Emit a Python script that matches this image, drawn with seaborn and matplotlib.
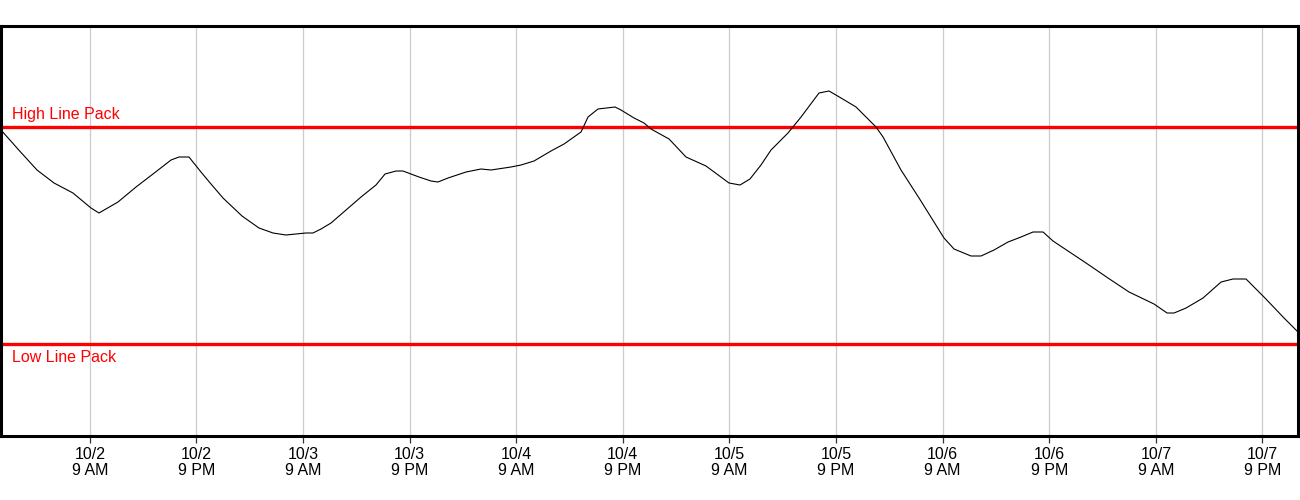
import numpy as np
import pandas as pd
import matplotlib
matplotlib.use("Agg")
import matplotlib.pyplot as plt
import matplotlib.dates as mdates
import matplotlib.transforms as mtransforms
import seaborn as sns

# ---- data ----
start_time = "2023-10-01 23:00"
hours = [0.0, 2.0, 4.05, 5.97, 8.1, 10.13, 11.03, 13.17, 15.2, 17.11, 19.14, 20.04,
         21.16, 22.51, 23.64, 24.99, 27.13, 29.04, 30.62, 32.08, 34.33, 35.12, 36.02,
         37.15, 38.84, 40.53, 42.21, 43.23, 44.47, 45.25, 47.05, 48.41, 49.19, 50.32,
         52.35, 54.03, 55.16, 57.41, 58.54, 60.0, 61.91, 63.38, 65.29, 66.08, 67.2,
         69.12, 69.79, 71.26, 72.38, 73.17, 75.2, 77.11, 79.36, 81.95, 83.19, 84.31,
         85.55, 86.68, 88.59, 90.06, 92.08, 93.21, 94.56, 96.25, 97.15, 98.5, 99.29,
         101.31, 103.34, 106.15, 107.28, 109.19, 110.32, 111.78, 113.36, 114.82,
         116.17, 117.3, 118.42, 122.14, 124.61, 126.98, 129.79, 131.26, 132.05,
         133.4, 135.31, 137.34, 138.69, 140.15, 142.17, 144.43, 146.0]
line_pack = [306, 286, 266, 253, 243, 228, 223, 234, 249, 262, 276, 279,
             279, 264, 252, 238, 220, 208, 203, 201, 203, 203, 207,
             213, 226, 239, 251, 262, 265, 265, 259, 255, 254, 258,
             264, 267, 266, 269, 271, 275, 285, 292, 304, 319, 327,
             329, 326, 318, 313, 307, 297, 279, 270, 253, 251, 257,
             271, 286, 303, 319, 343, 345, 338, 329, 321, 309, 299,
             266, 238, 198, 187, 180, 180, 186, 194, 199,
             204, 204, 195, 173, 158, 144, 132, 123, 123,
             128, 138, 154, 157, 157, 139, 118, 104]
high_line_pack = 309
low_line_pack = 92
threshold_labels = ["High Line Pack", "Low Line Pack"]
tick_labels = ["10/2\n9 AM", "10/2\n9 PM", "10/3\n9 AM", "10/3\n9 PM",
               "10/4\n9 AM", "10/4\n9 PM", "10/5\n9 AM", "10/5\n9 PM",
               "10/6\n9 AM", "10/6\n9 PM", "10/7\n9 AM", "10/7\n9 PM"]
first_tick = "2023-10-02 09:00"
tick_step_hours = 12
x_end_hours = 146

# ---- frame ----
t0 = pd.Timestamp(start_time)
df = pd.DataFrame({
    "time": [t0 + pd.Timedelta(hours=h) for h in hours],
    "value": line_pack,
})

sns.set_style("white")
plt.rcParams["font.family"] = ["Liberation Sans", "DejaVu Sans"]

fig = plt.figure(figsize=(13, 5), dpi=100)
ax = fig.add_axes([1 / 1300, 64 / 500, 1297 / 1300, 410 / 500])

ticks = [pd.Timestamp(first_tick) + pd.Timedelta(hours=tick_step_hours * i)
         for i in range(len(tick_labels))]
for t in ticks:
    ax.axvline(t, color="#cccccc", lw=0.9, zorder=0)

sns.lineplot(data=df, x="time", y="value", ax=ax, color="black", lw=0.8,
             estimator=None, zorder=3)

ax.axhline(high_line_pack, color="#ff0000", lw=2.4, zorder=2)
ax.axhline(low_line_pack, color="#ff0000", lw=2.4, zorder=2)

trans = mtransforms.blended_transform_factory(ax.transAxes, ax.transData)
ax.annotate(threshold_labels[0], xy=(0, high_line_pack), xycoords=trans,
            xytext=(8, 5.8), textcoords="offset points", color="#ff0000",
            fontsize=11.5, va="baseline", ha="left")
ax.annotate(threshold_labels[1], xy=(0, low_line_pack), xycoords=trans,
            xytext=(8, -13), textcoords="offset points", color="#ff0000",
            fontsize=11.5, va="baseline", ha="left")

ax.set_xlim(t0, t0 + pd.Timedelta(hours=x_end_hours))
ax.set_ylim(0, 410)
ax.set_xticks(ticks)
ax.set_xticklabels(tick_labels, fontsize=11.5, color="black", linespacing=1.05)
ax.tick_params(axis="x", direction="out", length=5, width=0.9, color="#333333",
               pad=3, bottom=True)
ax.set_yticks([])
ax.set_xlabel("")
ax.set_ylabel("")
for s in ax.spines.values():
    s.set_visible(True)
    s.set_color("black")
    s.set_linewidth(2.2)

fig.savefig("out.png", dpi=100)
